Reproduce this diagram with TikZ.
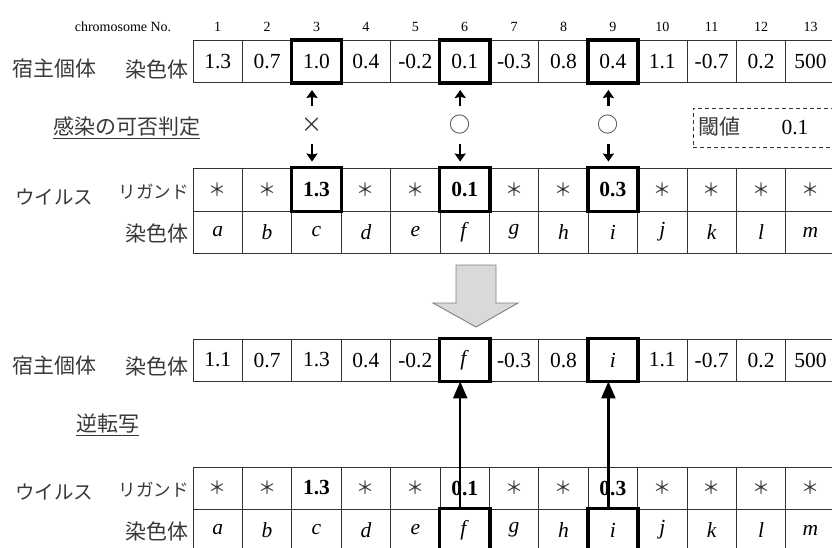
\documentclass[tikz,border=0pt]{standalone}
\usepackage{fontspec}
\setmainfont{Liberation Serif}
\newfontfamily\jp{Noto Sans CJK JP}
\usetikzlibrary{arrows.meta}
\newcommand\jast{{\jp\fontsize{18}{20}\selectfont\color{black!80}＊}}
\definecolor{gridc}{HTML}{333333}
\definecolor{bigfill}{HTML}{D9D9D9}
\definecolor{bigline}{HTML}{808080}
\begin{document}
\begin{tikzpicture}[x=1pt,y=-1pt,
  cell/.style={draw=gridc, line width=0.9pt, minimum width=49.4pt, minimum height=42pt, inner sep=0pt, font=\fontsize{21.5}{24}\selectfont},
  hlbox/.style={draw=black, line width=3.6pt},
  jplab/.style={inner sep=0pt, text=black!78, font=\jp\fontsize{21}{24}\selectfont},
  kana/.style={inner sep=0pt, text=black!78, font=\jp\fontsize{19.5}{22}\selectfont},
  kanas/.style={inner sep=0pt, text=black!78, font=\jp\fontsize{17.5}{20}\selectfont},
  hdr/.style={inner sep=0pt, font=\fontsize{14}{16}\selectfont},
  judgemark/.style={inner sep=0pt, minimum height=38pt, text=black!80, font=\jp\fontsize{21}{24}\selectfont},
  smallarrow/.style={line width=2.3pt, -{Stealth[length=8pt,width=11pt,inset=1pt]}},
  longarrow/.style={line width=2.5pt, -{Triangle[length=17pt,width=14pt]}},
]
\useasboundingbox (0,0) rectangle (832,547);
\clip (0,0) rectangle (832,547);

% header
\node[hdr] (chrno) at (123,27) {chromosome No.};
\foreach \i in {1,...,13} {
  \node[hdr] (n\i) at ({193+49.4*(\i-0.5)},27) {\i};
}

% host row 1
\foreach \v [count=\i] in {1.3,0.7,1.0,0.4,-0.2,0.1,-0.3,0.8,0.4,1.1,-0.7,0.2,500} {
  \node[cell] (ha\i) at ({193+49.4*(\i-0.5)},61.5) {\v};
}
% virus ligand row 1
\foreach \v [count=\i] in {\jast,\jast,\textbf{1.3},\jast,\jast,\textbf{0.1},\jast,\jast,\textbf{0.3},\jast,\jast,\jast,\jast} {
  \node[cell, minimum height=43pt] (la\i) at ({193+49.4*(\i-0.5)},189.5) {\v};
}
% virus chromosome row 1
\foreach \v [count=\i] in {a,b,c,d,e,f,g,h,i,j,k,l,m} {
  \node[cell] (ca\i) at ({193+49.4*(\i-0.5)},232) {\textit{\v}};
}
% host row 2
\foreach \v [count=\i] in {1.1,0.7,1.3,0.4,-0.2,\textit{f},-0.3,0.8,\textit{i},1.1,-0.7,0.2,500} {
  \node[cell] (hb\i) at ({193+49.4*(\i-0.5)},360) {\v};
}
% virus ligand row 2
\foreach \v [count=\i] in {\jast,\jast,\textbf{1.3},\jast,\jast,\textbf{0.1},\jast,\jast,\textbf{0.3},\jast,\jast,\jast,\jast} {
  \node[cell] (lb\i) at ({193+49.4*(\i-0.5)},488) {\v};
}
% virus chromosome row 2
\foreach \v [count=\i] in {a,b,c,d,e,f,g,h,i,j,k,l,m} {
  \node[cell] (cb\i) at ({193+49.4*(\i-0.5)},530) {\textit{\v}};
}

% highlighted cells
\foreach \i in {3,6,9} {
  \draw[hlbox] (ha\i.south west) rectangle (ha\i.north east);
  \draw[hlbox] (la\i.south west) rectangle (la\i.north east);
}
\foreach \i in {6,9} {
  \draw[hlbox] (hb\i.south west) rectangle (hb\i.north east);
  \draw[hlbox] (cb\i.south west) rectangle (cb\i.north east);
}

% labels
\node[jplab, anchor=west] (hostA) at (12,69) {宿主個体};
\node[jplab, anchor=east] (chromA) at (189,69) {染色体};
\node[jplab, anchor=west] (judge) at (53,128) {\underline{感染の可否判定}};
\node[kana, anchor=west] (virA) at (15,197) {ウイルス};
\node[kanas, anchor=east] (ligA) at (189,192) {リガンド};
\node[jplab, anchor=east] (vchromA) at (189,233) {染色体};

\node[jplab, anchor=west] (hostB) at (12,366) {宿主個体};
\node[jplab, anchor=east] (chromB) at (189,366) {染色体};
\node[jplab, anchor=west] (rt) at (76,425) {\underline{逆転写}};
\node[kana, anchor=west] (virB) at (15,492) {ウイルス};
\node[kanas, anchor=east] (ligB) at (189,490) {リガンド};
\node[jplab, anchor=east] (vchromB) at (189,531) {染色体};

% threshold box
\node[draw=gridc, line width=0.9pt, dash pattern=on 4pt off 3pt, minimum width=160pt, minimum height=39pt, inner sep=0pt] (thr) at (773,127.5) {};
\node[jplab, anchor=west] (thrlab) at (698,127) {閾値};
\node[inner sep=0pt, font=\fontsize{21.5}{24}\selectfont] (thrval) at (795,127) {0.1};

% judgement marks and arrows
\node[judgemark] (m3) at ({193+49.4*2.5-4.5},125) {×};
\node[judgemark] (m6) at ({193+49.4*5.5-4.5},125) {○};
\node[judgemark] (m9) at ({193+49.4*8.5-4.5},125) {○};
\foreach \i in {3,6,9} {
  \draw[smallarrow, shorten >=7pt] (m\i.north) -- (m\i.north |- ha\i.south);
  \draw[smallarrow, shorten >=6pt] (m\i.south) -- (m\i.south |- la\i.north);
}

% big arrow
\draw[fill=bigfill, draw=bigline, line width=0.9pt] (456,265) -- (496,265) -- (496,303) -- (518,303) -- (476,327) -- (433,303) -- (456,303) -- cycle;

% reverse transcription arrows
\foreach \i in {6,9} {
  \draw[longarrow] ([xshift=-4.5pt]cb\i.north) -- ([xshift=-4.5pt]hb\i.south);
}
\end{tikzpicture}
\end{document}
